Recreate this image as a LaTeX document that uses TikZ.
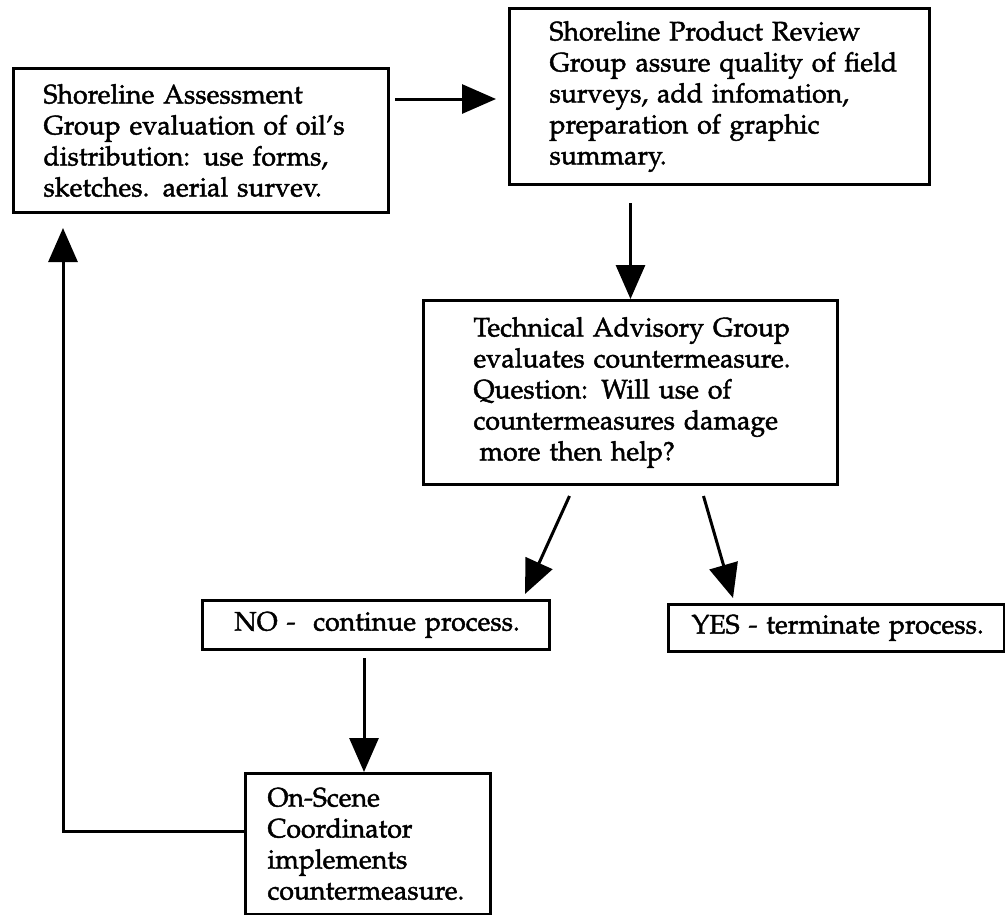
\documentclass[tikz,border=0pt]{standalone}
\usepackage[T1]{fontenc}
\usepackage{mathpazo}
\usetikzlibrary{arrows.meta,calc}
\newcommand{\heavytext}{\special{pdf:literal direct 2 Tr 0.45 w}}
\begin{document}
\begin{tikzpicture}[x=1pt,y=-1pt,
  box/.style={draw, line width=3pt, inner xsep=0pt, inner ysep=0pt, anchor=north west, align=left, font=\fontsize{26.7}{31}\selectfont},
  arr/.style={line width=3pt, -{Triangle[length=34pt,width=29pt]}}]
\useasboundingbox (0,0) rectangle (1005,914);
\fill[white] (0,0) rectangle (1005,914);

\node[box, minimum width=375pt, text width=375pt, minimum height=144pt] (A) at (12,67)
  {\heavytext\leftskip=30pt Shoreline Assessment\\Group evaluation of oil's\\distribution: use forms,\\sketches. aerial survev.\par};
\node[box, minimum width=420pt, text width=420pt, minimum height=176pt] (B) at (508,7)
  {\heavytext\leftskip=40pt Shoreline Product Review\\Group assure quality of field\\surveys, add infomation,\\preparation of graphic\\summary.\par};
\node[box, minimum width=414pt, text width=414pt, minimum height=184pt] (C) at (422,299)
  {\heavytext\leftskip=50pt Technical Advisory Group\\evaluates countermeasure.\\Question: Will use of\\countermeasures damage\\\hspace*{6pt}more then help?\par};
\node[box, minimum width=347pt, text width=347pt, minimum height=49pt] (NO) at (201,599)
  {\heavytext\leftskip=32pt NO -\ \ continue process.\par};
\node[box, minimum width=336pt, text width=336pt, minimum height=47pt] (YES) at (667,603)
  {\heavytext\leftskip=23pt YES - terminate process.\par};
\node[box, minimum width=245pt, text width=245pt, minimum height=141pt] (OSC) at (244,772)
  {\heavytext\leftskip=22pt On-Scene\\Coordinator\\implements\\countermeasure.\par};

\draw[arr] ($(A.north east)+(5,32)$) -- ($(B.west |- A.north east)+(-12,32)$);
\draw[arr] ($(B.south -| C.north)+(0,17)$) -- (C.north);
\draw[arr] ($(C.south)+(-61,10)$) -- ($(NO.north west)+(324,-5)$);
\draw[arr] ($(C.south)+(73,10)$) -- ($(YES.north west)+(66,-5)$);
\draw[arr] ($(NO.south -| OSC.north)+(-4,7)$) -- ($(OSC.north)+(-4,0)$);
\draw[arr] ($(OSC.west)+(0,-13)$) -| ($(A.south west)+(51,14)$);
\end{tikzpicture}
\end{document}
